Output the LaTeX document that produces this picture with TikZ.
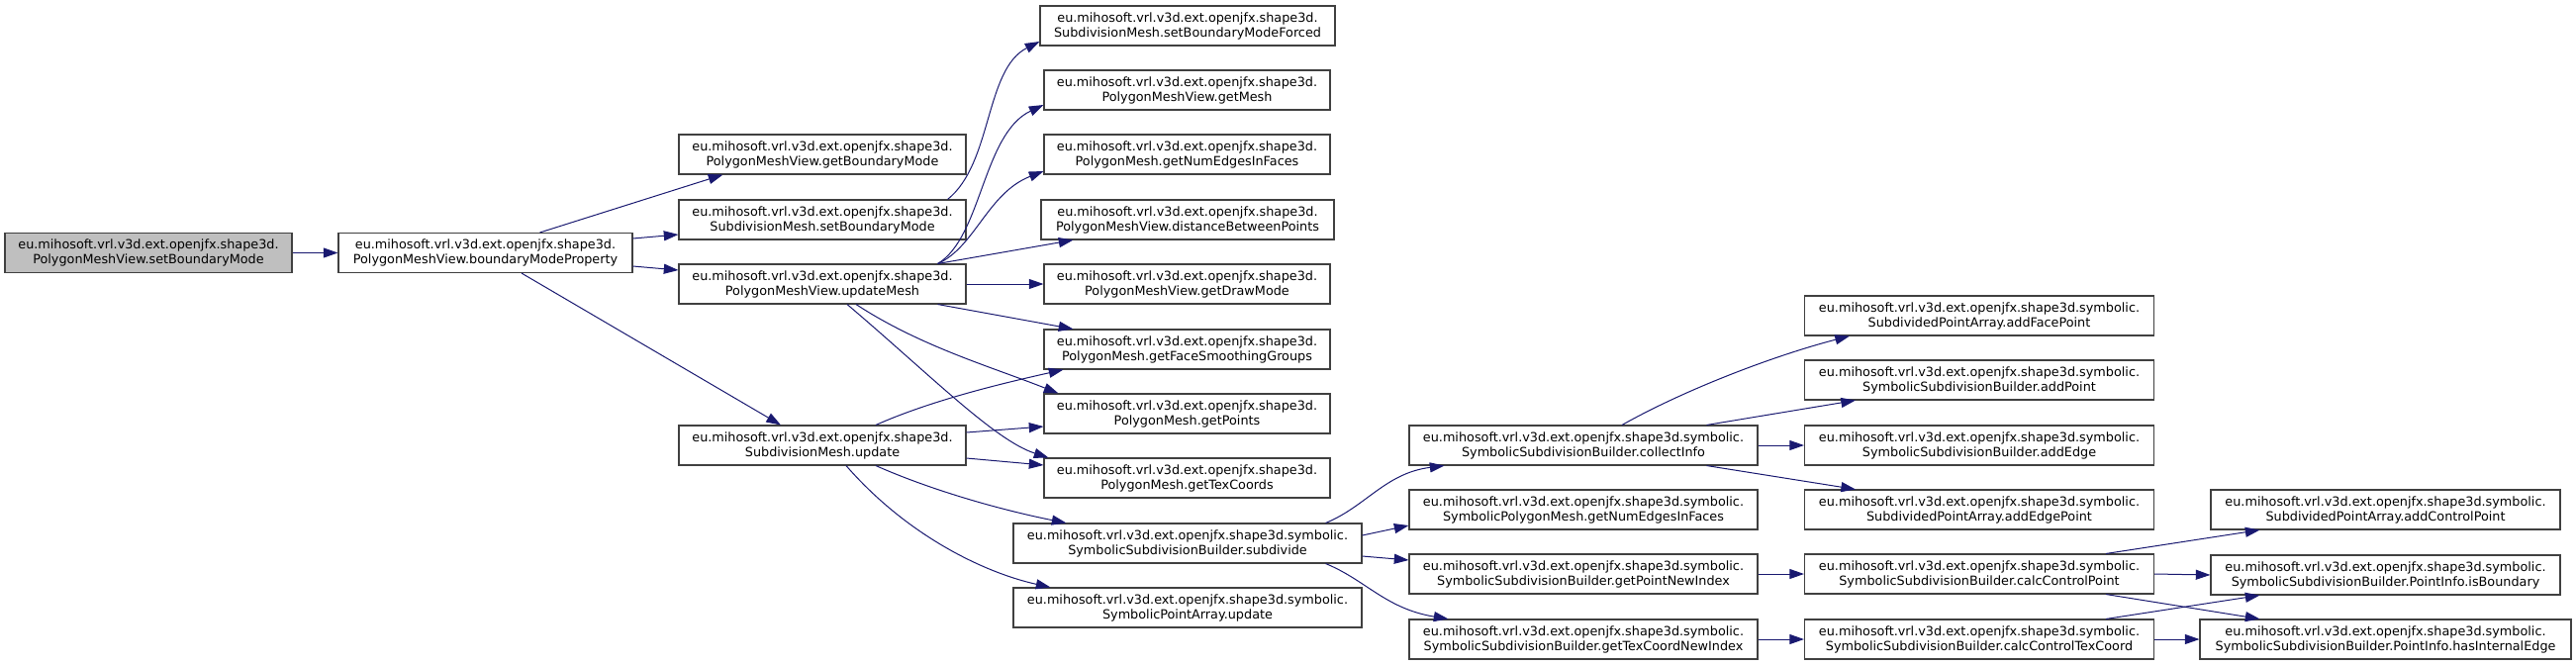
\documentclass[tikz,border=0pt]{standalone}
\usepackage{fontspec}
\setmainfont{DejaVu Sans}
\usetikzlibrary{arrows.meta,calc}
\definecolor{edgecol}{HTML}{191970}
\definecolor{boxcol}{HTML}{404040}
\definecolor{rootfill}{HTML}{BFBFBF}
\tikzset{
  fn/.style={draw=boxcol, line width=0.8pt, fill=white, rectangle, inner sep=0pt,
    minimum height=30pt, align=center, font=\fontsize{9.6}{11.25}\selectfont},
  rootfn/.style={fn, fill=rootfill},
  call/.style={draw=edgecol, line width=0.75pt, -{Triangle[length=11pt,width=7.5pt]}},
}
\begin{document}
\begin{tikzpicture}[x=0.75pt,y=-0.75pt]
\useasboundingbox (0,0) rectangle (2603,672);
% column 1-2
\node[rootfn, minimum width=217.5pt] (sbm) at (150,255.5) {eu.mihosoft.vrl.v3d.ext.openjfx.shape3d.\\PolygonMeshView.setBoundaryMode};
\node[fn, minimum width=222.75pt] (bmp) at (490.5,255.5) {eu.mihosoft.vrl.v3d.ext.openjfx.shape3d.\\PolygonMeshView.boundaryModeProperty};
% column 3
\node[fn, minimum width=217.5pt] (gbm) at (831,156) {eu.mihosoft.vrl.v3d.ext.openjfx.shape3d.\\PolygonMeshView.getBoundaryMode};
\node[fn, minimum width=217.5pt] (ssbm) at (831,222) {eu.mihosoft.vrl.v3d.ext.openjfx.shape3d.\\SubdivisionMesh.setBoundaryMode};
\node[fn, minimum width=217.5pt] (um) at (831,287) {eu.mihosoft.vrl.v3d.ext.openjfx.shape3d.\\PolygonMeshView.updateMesh};
\node[fn, minimum width=217.5pt] (smu) at (831,450) {eu.mihosoft.vrl.v3d.ext.openjfx.shape3d.\\SubdivisionMesh.update};
% column 4
\node[fn, minimum width=223.5pt] (forced) at (1200,26) {eu.mihosoft.vrl.v3d.ext.openjfx.shape3d.\\SubdivisionMesh.setBoundaryModeForced};
\node[fn, minimum width=216.75pt] (gmesh) at (1199.5,91) {eu.mihosoft.vrl.v3d.ext.openjfx.shape3d.\\PolygonMeshView.getMesh};
\node[fn, minimum width=216.75pt] (pmnum) at (1199.5,156) {eu.mihosoft.vrl.v3d.ext.openjfx.shape3d.\\PolygonMesh.getNumEdgesInFaces};
\node[fn, minimum width=222pt] (dist) at (1200,222) {eu.mihosoft.vrl.v3d.ext.openjfx.shape3d.\\PolygonMeshView.distanceBetweenPoints};
\node[fn, minimum width=216.75pt] (gdm) at (1199.5,287) {eu.mihosoft.vrl.v3d.ext.openjfx.shape3d.\\PolygonMeshView.getDrawMode};
\node[fn, minimum width=216.75pt] (fsg) at (1199.5,353) {eu.mihosoft.vrl.v3d.ext.openjfx.shape3d.\\PolygonMesh.getFaceSmoothingGroups};
\node[fn, minimum width=216.75pt] (gpts) at (1199.5,418) {eu.mihosoft.vrl.v3d.ext.openjfx.shape3d.\\PolygonMesh.getPoints};
\node[fn, minimum width=216.75pt] (gtc) at (1199.5,483) {eu.mihosoft.vrl.v3d.ext.openjfx.shape3d.\\PolygonMesh.getTexCoords};
\node[fn, minimum width=264pt] (subd) at (1200,549) {eu.mihosoft.vrl.v3d.ext.openjfx.shape3d.symbolic.\\SymbolicSubdivisionBuilder.subdivide};
\node[fn, minimum width=264pt] (spau) at (1200,614) {eu.mihosoft.vrl.v3d.ext.openjfx.shape3d.symbolic.\\SymbolicPointArray.update};
% column 5
\node[fn, minimum width=264pt] (ci) at (1600,450) {eu.mihosoft.vrl.v3d.ext.openjfx.shape3d.symbolic.\\SymbolicSubdivisionBuilder.collectInfo};
\node[fn, minimum width=264pt] (spmnum) at (1600,515) {eu.mihosoft.vrl.v3d.ext.openjfx.shape3d.symbolic.\\SymbolicPolygonMesh.getNumEdgesInFaces};
\node[fn, minimum width=264pt] (gpni) at (1600,580) {eu.mihosoft.vrl.v3d.ext.openjfx.shape3d.symbolic.\\SymbolicSubdivisionBuilder.getPointNewIndex};
\node[fn, minimum width=264pt] (gtcni) at (1600,646) {eu.mihosoft.vrl.v3d.ext.openjfx.shape3d.symbolic.\\SymbolicSubdivisionBuilder.getTexCoordNewIndex};
% column 6
\node[fn, minimum width=264.75pt] (afp) at (2000,319) {eu.mihosoft.vrl.v3d.ext.openjfx.shape3d.symbolic.\\SubdividedPointArray.addFacePoint};
\node[fn, minimum width=264.75pt] (ap) at (2000,384) {eu.mihosoft.vrl.v3d.ext.openjfx.shape3d.symbolic.\\SymbolicSubdivisionBuilder.addPoint};
\node[fn, minimum width=264.75pt] (ae) at (2000,450) {eu.mihosoft.vrl.v3d.ext.openjfx.shape3d.symbolic.\\SymbolicSubdivisionBuilder.addEdge};
\node[fn, minimum width=264.75pt] (aep) at (2000,515) {eu.mihosoft.vrl.v3d.ext.openjfx.shape3d.symbolic.\\SubdividedPointArray.addEdgePoint};
\node[fn, minimum width=264.75pt] (ccp) at (2000,580) {eu.mihosoft.vrl.v3d.ext.openjfx.shape3d.symbolic.\\SymbolicSubdivisionBuilder.calcControlPoint};
\node[fn, minimum width=264.75pt] (cctc) at (2000,646) {eu.mihosoft.vrl.v3d.ext.openjfx.shape3d.symbolic.\\SymbolicSubdivisionBuilder.calcControlTexCoord};
% column 7
\node[fn, minimum width=264.75pt] (acp) at (2410.5,515) {eu.mihosoft.vrl.v3d.ext.openjfx.shape3d.symbolic.\\SubdividedPointArray.addControlPoint};
\node[fn, minimum width=264.75pt] (isb) at (2410.5,581) {eu.mihosoft.vrl.v3d.ext.openjfx.shape3d.symbolic.\\SymbolicSubdivisionBuilder.PointInfo.isBoundary};
\node[fn, minimum width=281.25pt] (hie) at (2410.5,646) {eu.mihosoft.vrl.v3d.ext.openjfx.shape3d.symbolic.\\SymbolicSubdivisionBuilder.PointInfo.hasInternalEdge};

% edges
\draw[call] (sbm.east) -- (bmp.west);
\draw[call] ($(bmp.north)+(55,0)$) -- ($(gbm.south west)+(45,0)$);
\draw[call] ($(bmp.east)+(0,-14.5)$) -- ($(ssbm.west)+(0,15)$);
\draw[call] ($(bmp.east)+(0,13.5)$) -- ($(um.west)+(0,-14)$);
\draw[call] ($(bmp.south)+(36.5,0)$) -- ($(smu.north)+(-42,0)$);

\draw[call] ($(ssbm.north east)+(-19,0)$) .. controls (1003,165) and (995,70) .. ($(forced.west)+(0,16)$);
\draw[call] ($(um.north east)+(-29,0)$) .. controls (992,240) and (993,135) .. ($(gmesh.west)+(0,15)$);
\draw[call] ($(um.north east)+(-29,0)$) .. controls (985,250) and (998,195) .. ($(pmnum.west)+(0,17)$);
\draw[call] ($(um.north east)+(-29,0)$) -- ($(dist.south west)+(33,0)$);
\draw[call] (um.east) -- (gdm.west);
\draw[call] ($(um.south east)+(-29,0)$) -- ($(fsg.north west)+(30,0)$);
\draw[call] ($(um.south)+(34,0)$) .. controls (930,350) and (1000,370) .. ($(gpts.north west)+(15,0)$);
\draw[call] ($(um.south)+(25,0)$) .. controls (938,377) and (1005,445) .. ($(gtc.north west)+(5,0)$);

\draw[call] ($(smu.north)+(54,0)$) .. controls (940,405) and (1010,388) .. ($(fsg.south west)+(20,0)$);
\draw[call] ($(smu.east)+(0,-13)$) -- ($(gpts.west)+(0,13)$);
\draw[call] ($(smu.east)+(0,13)$) -- ($(gtc.west)+(0,-13)$);
\draw[call] ($(smu.south)+(54,0)$) .. controls (940,495) and (1010,515) .. ($(subd.north west)+(54,0)$);
\draw[call] ($(smu.south)+(24,0)$) .. controls (920,545) and (1000,580) .. ($(spau.north west)+(38,0)$);

\draw[call] ($(subd.north east)+(-37,0)$) .. controls (1380,512) and (1400,478) .. ($(ci.south west)+(36,0)$);
\draw[call] ($(subd.east)+(0,-8)$) -- ($(spmnum.west)+(0,16)$);
\draw[call] ($(subd.east)+(0,13)$) -- ($(gpni.west)+(0,-14)$);
\draw[call] ($(subd.south east)+(-37,0)$) .. controls (1380,586) and (1400,615) .. ($(gtcni.north west)+(40,0)$);

\draw[call] ($(ci.north)+(39,0)$) .. controls (1700,395) and (1790,360) .. ($(afp.south west)+(46,0)$);
\draw[call] ($(ci.north east)+(-52,0)$) -- ($(ap.south west)+(52,0)$);
\draw[call] (ci.east) -- (ae.west);
\draw[call] ($(ci.south east)+(-52,0)$) -- ($(aep.north west)+(52,0)$);
\draw[call] (gpni.east) -- (ccp.west);
\draw[call] (gtcni.east) -- (cctc.west);

\draw[call] ($(ccp.north east)+(-49,0)$) -- ($(acp.south west)+(50,0)$);
\draw[call] (ccp.east) -- (isb.west);
\draw[call] ($(ccp.south east)+(-49,0)$) -- ($(hie.north west)+(61,0)$);
\draw[call] ($(cctc.north east)+(-49,0)$) -- ($(isb.south west)+(50,0)$);
\draw[call] (cctc.east) -- (hie.west);
\end{tikzpicture}
\end{document}
